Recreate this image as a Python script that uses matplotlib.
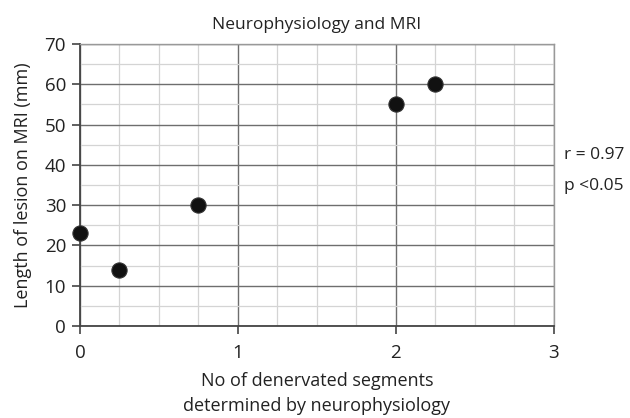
import matplotlib.pyplot as plt
from matplotlib.ticker import MultipleLocator

plt.rcParams['font.family'] = ['Open Sans', 'DejaVu Sans']

segments = [0, 0.25, 0.75, 2, 2.25]
lesion_mm = [23, 14, 30, 55, 60]
x_ticks = [0, 1, 2, 3]
y_ticks = [0, 10, 20, 30, 40, 50, 60, 70]

fig = plt.figure(figsize=(6.3, 4.18), dpi=100)
ax = fig.add_axes([0.127, 0.22, 0.752, 0.675])

ax.set_xlim(0, 3)
ax.set_ylim(0, 70)
ax.set_xticks(x_ticks)
ax.set_yticks(y_ticks)
ax.xaxis.set_minor_locator(MultipleLocator(0.25))
ax.yaxis.set_minor_locator(MultipleLocator(5))

ax.grid(which='major', color='#6e6e6e', linewidth=1.0)
ax.grid(which='minor', color='#d4d4d4', linewidth=0.9)
ax.set_axisbelow(True)

for side in ['top', 'right']:
    ax.spines[side].set_color('#999999')
    ax.spines[side].set_linewidth(1.0)
for side in ['left', 'bottom']:
    ax.spines[side].set_color('#444444')
    ax.spines[side].set_linewidth(1.3)

ax.tick_params(which='major', length=6, width=1.2, color='#444444', labelsize=13.5,
               labelcolor='#222222', pad=4)
ax.tick_params(which='minor', length=0)
ax.tick_params(axis='x', pad=7)

ax.scatter(segments, lesion_mm, s=120, color='#111111', edgecolors='#333333',
           linewidths=0.8, zorder=5, clip_on=False)

ax.set_title('Neurophysiology and MRI', fontsize=12.5, pad=11, color='#222222')
ax.set_xlabel('No of denervated segments\ndetermined by neurophysiology', fontsize=13,
              labelpad=7, linespacing=1.5, color='#222222')
ax.set_ylabel('Length of lesion on MRI (mm)', fontsize=13, labelpad=9, color='#222222')

fig.text(0.895, 0.63, 'r = 0.97', fontsize=12.5, ha='left', va='center', color='#222222')
fig.text(0.895, 0.555, 'p <0.05', fontsize=12.5, ha='left', va='center', color='#222222')

fig.savefig('out.png', dpi=100)
